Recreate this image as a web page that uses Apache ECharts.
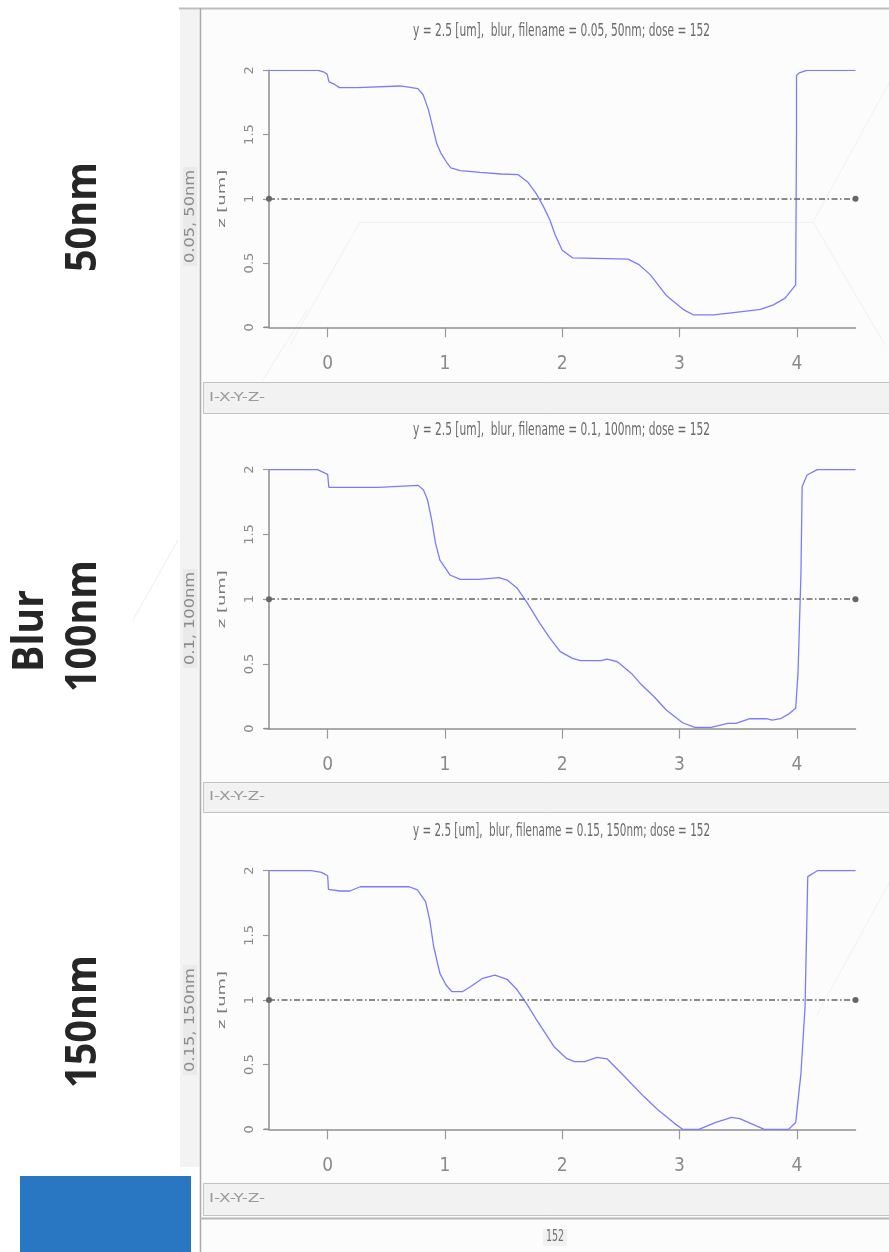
<!DOCTYPE html>
<html>
<head>
<meta charset="utf-8">
<script src="https://cdn.jsdelivr.net/npm/echarts@6/dist/echarts.min.js"></script>
<style>
html,body{margin:0;padding:0;background:#ffffff;}
#chart{width:889px;height:1252px;}
</style>
</head>
<body>
<div id="chart"></div>
<script>
// ---------------- data ----------------
const xTicks = [0, 1, 2, 3, 4];
const yTickLabels = ['0', '0.5', '1', '1.5', '2'];
const threshold = 1;

const titles = [
  'y = 2.5 [um],  blur, filename = 0.05, 50nm; dose = 152',
  'y = 2.5 [um],  blur, filename = 0.1, 100nm; dose = 152',
  'y = 2.5 [um],  blur, filename = 0.15, 150nm; dose = 152'
];
const stripLabels = ['0.05, 50nm', '0.1, 100nm', '0.15, 150nm'];
const rowLabels = ['50nm', '100nm', '150nm'];
const groupLabel = 'Blur';
const axisName = 'z [um]';
const statusText = 'I-X-Y-Z-';
const doseText = '152';

const x1 = [-0.5, -0.08, -0.03, -0.005, 0.01, 0.012, 0.06, 0.10, 0.25, 0.252, 0.62, 0.625, 0.77, 0.815, 0.86, 0.895, 0.93, 0.963, 1.01, 1.05, 1.13, 1.30, 1.48, 1.625, 1.71, 1.78, 1.84, 1.895, 1.94, 2.0, 2.09, 2.56, 2.65, 2.75, 2.89, 3.03, 3.12, 3.29, 3.46, 3.69, 3.80, 3.90, 3.99, 3.997, 3.997, 4.02, 4.085, 4.5];
const z1 = [2, 2, 1.985, 1.97, 1.965, 1.91, 1.89, 1.865, 1.865, 1.878, 1.878, 1.868, 1.858, 1.808, 1.69, 1.56, 1.43, 1.36, 1.29, 1.24, 1.22, 1.206, 1.193, 1.188, 1.126, 1.038, 0.939, 0.835, 0.718, 0.60, 0.54, 0.53, 0.49, 0.41, 0.245, 0.14, 0.096, 0.096, 0.115, 0.14, 0.175, 0.227, 0.33, 1.50, 1.96, 1.98, 2, 2];

const x2 = [-0.5, -0.087, 0.0, 0.01, 0.435, 0.437, 0.772, 0.817, 0.852, 0.887, 0.92, 0.957, 1.043, 1.13, 1.287, 1.30, 1.46, 1.53, 1.617, 1.704, 1.809, 1.896, 1.983, 2.087, 2.157, 2.33, 2.383, 2.47, 2.59, 2.678, 2.783, 2.887, 3.026, 3.13, 3.27, 3.41, 3.48, 3.60, 3.74, 3.79, 3.86, 3.93, 3.99, 4.01, 4.035, 4.045, 4.087, 4.174, 4.5];
const z2 = [2, 2, 1.964, 1.864, 1.864, 1.879, 1.879, 1.843, 1.766, 1.611, 1.431, 1.302, 1.187, 1.153, 1.153, 1.166, 1.166, 1.148, 1.084, 0.968, 0.813, 0.698, 0.595, 0.543, 0.525, 0.525, 0.538, 0.517, 0.427, 0.337, 0.247, 0.144, 0.046, 0.010, 0.010, 0.041, 0.041, 0.077, 0.077, 0.067, 0.077, 0.113, 0.157, 0.427, 1.20, 1.869, 1.959, 2, 2];

const x3 = [-0.5, -0.139, -0.052, 0.0, 0.007, 0.104, 0.19, 0.278, 0.696, 0.765, 0.835, 0.87, 0.904, 0.957, 1.009, 1.06, 1.148, 1.217, 1.322, 1.426, 1.53, 1.617, 1.704, 1.791, 1.93, 2.035, 2.104, 2.19, 2.296, 2.383, 2.504, 2.696, 2.817, 2.957, 3.026, 3.165, 3.304, 3.443, 3.513, 3.722, 3.93, 3.99, 4.035, 4.07, 4.093, 4.174, 4.5];
const z3 = [2, 2, 1.987, 1.961, 1.856, 1.843, 1.843, 1.876, 1.876, 1.851, 1.76, 1.619, 1.412, 1.206, 1.116, 1.064, 1.064, 1.103, 1.168, 1.193, 1.160, 1.077, 0.961, 0.832, 0.639, 0.549, 0.523, 0.523, 0.557, 0.544, 0.433, 0.253, 0.149, 0.046, 0, 0, 0.052, 0.093, 0.082, 0, 0, 0.052, 0.433, 0.948, 1.954, 2, 2];

const profilesX = [x1, x2, x3];
const profilesZ = [z1, z2, z3];

// ---------------- layout (styles only) ----------------
const panels = [
  { top: 70.3, height: 257.0, titleY: 31.5, bar: [382, 413], strip: 216.5, stripLen: 93, zName: 198.8 },
  { top: 469.7, height: 259.0, titleY: 430.5, bar: [782, 812], strip: 618.5, stripLen: 93, zName: 599.2 },
  { top: 870.7, height: 258.6, titleY: 831.5, bar: [1183, 1215], strip: 1020, stripLen: 104, zName: 1000 }
];
const gridLeft = 269, gridWidth = 586.5;

const mctx = document.createElement('canvas').getContext('2d');
function measure(text, font) { mctx.font = font; return mctx.measureText(text).width; }
function txt(text, x, y, o) {
  const weight = o.weight || 'normal';
  const font = weight + ' ' + o.size + 'px ' + o.family;
  const w = measure(text, font);
  const sx = o.len ? o.len / w : 1;
  const align = o.align || 'center';
  return {
    type: 'text', x: x, y: y, rotation: o.rot || 0, scaleX: sx, scaleY: o.sy || 1, z: 100, silent: true,
    style: {
      text: text, fontSize: o.size, fontFamily: o.family, fontWeight: weight, fill: o.color,
      align: align, textAlign: align, verticalAlign: 'middle', textVerticalAlign: 'middle'
    }
  };
}
function rect(x, y, w, h, fill, stroke, z) {
  return { type: 'rect', shape: { x: x, y: y, width: w, height: h }, z: z === undefined ? -10 : z, silent: true,
    style: { fill: fill, stroke: stroke || null, lineWidth: stroke ? 1 : 0 } };
}
function line(x1_, y1_, x2_, y2_, color, w, z) {
  return { type: 'line', shape: { x1: x1_, y1: y1_, x2: x2_, y2: y2_ }, z: z === undefined ? -5 : z, silent: true,
    style: { stroke: color, lineWidth: w } };
}

const ROT = Math.PI / 2;
const narrow = '"Liberation Sans Narrow", "DejaVu Sans Condensed", sans-serif';
const wide = '"DejaVu Sans", Verdana, sans-serif';
const bold = '"Open Sans", "Noto Sans", sans-serif';

const graphics = [];
// panel background & frame
graphics.push(rect(200, 8, 689, 1244, '#fcfcfc', null, -20));
graphics.push(rect(180, 10, 20, 1157, '#f3f3f3', null, -15));
graphics.push(line(179, 8.5, 889, 8.5, '#bdbdbd', 2, -4));
graphics.push(line(200.5, 8, 200.5, 1252, '#ababab', 1.5, -4));
graphics.push(line(200, 1218.5, 889, 1218.5, '#b8b8b8', 2, -4));
// faint background slide traces
graphics.push(line(360, 222.5, 813, 222.5, '#f1f1f1', 1, -8));
graphics.push(line(360, 222, 290, 345, '#f1f1f1', 1, -8));
graphics.push(line(307, 310, 250, 400, '#f1f1f1', 1, -8));
graphics.push(line(813, 222, 889, 83, '#f1f1f1', 1, -8));
graphics.push(line(813, 222, 885, 345, '#f1f1f1', 1, -8));
graphics.push(line(133, 620, 178, 540, '#efefef', 1, -8));
graphics.push(line(817, 1015, 889, 883, '#f1f1f1', 1, -8));

panels.forEach(function (p, i) {
  graphics.push(txt(titles[i], 561.5, p.titleY, { size: 16, family: narrow, color: '#6a6a6a', len: 297, sy: 1.05 }));
  graphics.push(rect(203.5, p.bar[0] + 0.5, 700, p.bar[1] - p.bar[0], '#f2f2f2', '#c2c2c2', -6));
  graphics.push(txt(statusText, 209, (p.bar[0] + p.bar[1]) / 2, { size: 12.5, family: narrow, color: '#9a9a9a', len: 56, align: 'left' }));
  graphics.push(rect(183, p.strip - p.stripLen / 2 - 3, 14, p.stripLen + 6, '#eaeaea', null, -12));
  graphics.push(txt(stripLabels[i], 190.5, p.strip, { size: 13.5, family: wide, color: '#8c8c8c', len: p.stripLen, rot: ROT }));
  graphics.push(txt(axisName, 222.5, p.zName, { size: 11, family: wide, color: '#7a7a7a', len: 58, rot: ROT }));
  // x axis line stub left of the y axis, as in the original plot
  graphics.push(line(264, p.top + p.height, 269, p.top + p.height, '#8e8e8e', 1.5, 1));
});

// dose box at bottom
graphics.push(rect(543, 1229, 24, 17, '#f1f1f1', null, -6));
graphics.push(txt(doseText, 555, 1237.5, { size: 15, family: narrow, color: '#707070', len: 18 }));

// big row labels
graphics.push(txt(rowLabels[0], 83.5, 217, { size: 43, family: bold, weight: 'bold', color: '#262626', len: 110, rot: ROT }));
graphics.push(txt(groupLabel, 31, 631, { size: 43, family: bold, weight: 'bold', color: '#262626', len: 82, rot: ROT }));
graphics.push(txt(rowLabels[1], 83.5, 626, { size: 43, family: bold, weight: 'bold', color: '#262626', len: 132, rot: ROT }));
graphics.push(txt(rowLabels[2], 83.5, 1021.5, { size: 43, family: bold, weight: 'bold', color: '#262626', len: 133, rot: ROT }));
// blue block
graphics.push(rect(20, 1176, 171, 76, '#2977c2', null, 5));

const grids = [], xAxes = [], yAxes = [], series = [];
panels.forEach(function (p, i) {
  grids.push({ left: gridLeft, width: gridWidth, top: p.top, height: p.height, containLabel: false });
  xAxes.push({
    type: 'value', gridIndex: i, min: -0.5, max: 4.5,
    axisLine: { show: true, onZero: false, lineStyle: { color: '#8e8e8e', width: 1.5 } },
    axisTick: { show: true, length: 10, customValues: xTicks, lineStyle: { color: '#9a9a9a', width: 1.2 } },
    axisLabel: { customValues: xTicks, margin: 27, color: '#8a8a8a', fontFamily: narrow, fontSize: 19 },
    splitLine: { show: false }
  });
  yAxes.push({
    type: 'value', gridIndex: i, min: 0, max: 2, interval: 0.5,
    axisLine: { show: true, onZero: false, lineStyle: { color: '#8e8e8e', width: 1.5 } },
    axisTick: { show: true, length: 6, lineStyle: { color: '#9a9a9a', width: 1.2 } },
    axisLabel: { rotate: 90, margin: 13, color: '#8a8a8a', fontFamily: wide, fontSize: 13,
      formatter: function (v) { return yTickLabels[Math.round(v * 2)]; } },
    splitLine: { show: false }
  });
  const xs = profilesX[i], zs = profilesZ[i];
  series.push({
    type: 'line', xAxisIndex: i, yAxisIndex: i,
    data: xs.map(function (x, k) { return [x, zs[k]]; }),
    showSymbol: false, symbol: 'none', smooth: false,
    lineStyle: { color: '#7b7bff', width: 1.3 },
    z: 3,
    markLine: {
      silent: true, symbol: ['circle', 'circle'], symbolSize: 6,
      label: { show: false },
      itemStyle: { color: '#5a5a5a' },
      lineStyle: { color: '#666666', width: 1.5, type: [6, 2.5, 1.5, 2.5] },
      emphasis: { disabled: true },
      data: [{ yAxis: threshold }]
    }
  });
});

const chart = echarts.init(document.getElementById('chart'), null, { renderer: 'canvas' });
chart.setOption({
  animation: false,
  backgroundColor: '#ffffff',
  grid: grids, xAxis: xAxes, yAxis: yAxes, series: series,
  graphic: { elements: graphics }
});
</script>
</body>
</html>
